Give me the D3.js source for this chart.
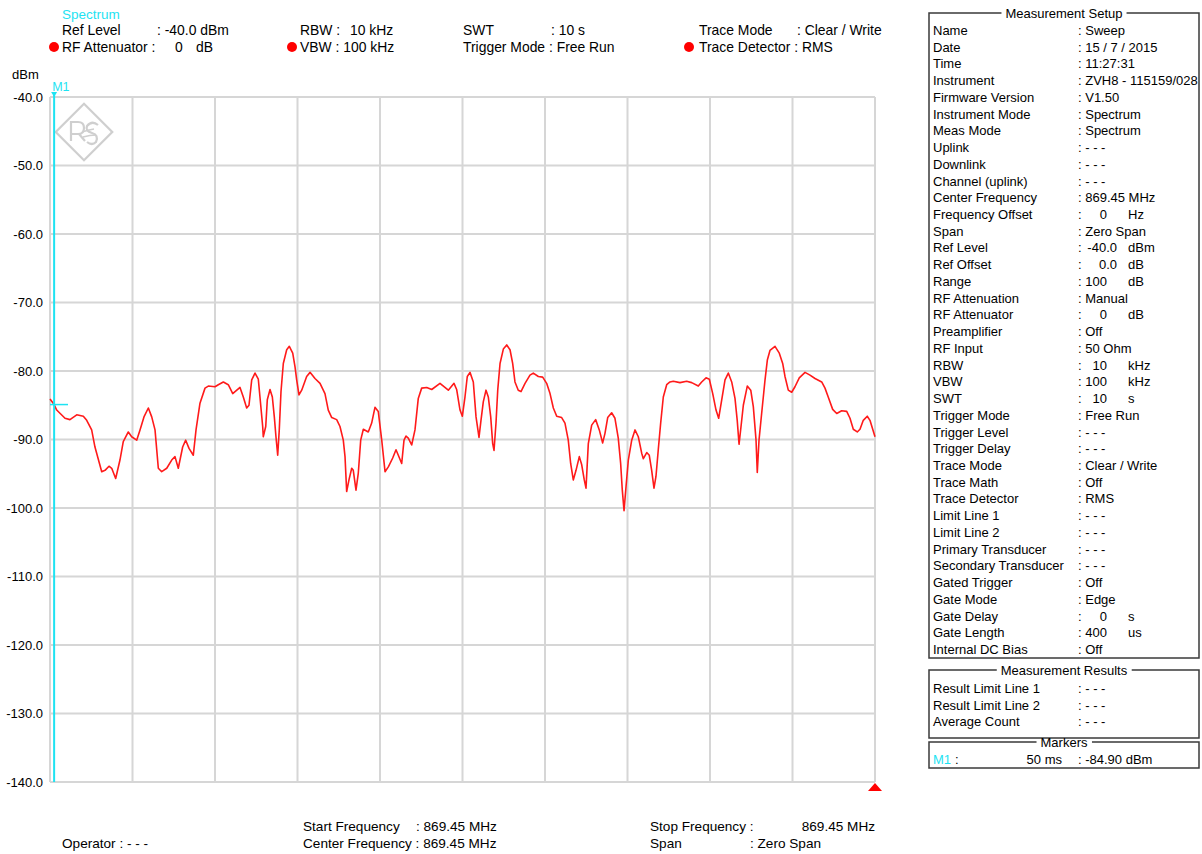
<!DOCTYPE html>
<html>
<head>
<meta charset="utf-8">
<script src="https://cdn.jsdelivr.net/npm/d3@7"></script>
<style>
  html, body { margin: 0; padding: 0; background: #fff; }
  svg { display: block; font-family: "Liberation Sans", Arial, sans-serif; font-size: 13px; }
</style>
</head>
<body>
<svg id="chart" width="1202" height="854"></svg>
<script>
// Zero-span sweep trace: time since sweep start (ms) and RMS level (dBm)
const timeMs = [0, 50, 81, 182, 242, 324, 404, 445, 505, 545, 627, 667, 715, 748, 796, 848, 888, 949, 990, 1051,
  1091, 1139, 1192, 1233, 1273, 1313, 1354, 1415, 1475, 1515, 1555, 1608, 1645, 1685, 1737, 1770, 1818, 1879, 1919, 2000,
  2040, 2101, 2161, 2215, 2303, 2343, 2384, 2412, 2445, 2485, 2525, 2545, 2578, 2585, 2615, 2634, 2667, 2695, 2719, 2739,
  2760, 2779, 2800, 2828, 2869, 2901, 2942, 2970, 2990, 3018, 3051, 3111, 3152, 3212, 3273, 3333, 3373, 3415, 3475, 3515,
  3555, 3576, 3596, 3624, 3657, 3676, 3709, 3737, 3766, 3798, 3858, 3899, 3939, 3979, 4021, 4061, 4101, 4154, 4194, 4222,
  4263, 4291, 4315, 4343, 4384, 4424, 4464, 4505, 4566, 4627, 4727, 4828, 4897, 4929, 4970, 4998, 5030, 5058, 5091, 5131,
  5164, 5200, 5224, 5252, 5285, 5313, 5342, 5366, 5382, 5406, 5427, 5455, 5495, 5536, 5576, 5608, 5636, 5676, 5709, 5758,
  5818, 5858, 5919, 5972, 6020, 6061, 6101, 6142, 6202, 6242, 6282, 6311, 6343, 6376, 6416, 6445, 6476, 6497, 6525, 6566,
  6614, 6658, 6699, 6727, 6760, 6808, 6848, 6888, 6917, 6937, 6958, 6982, 7010, 7051, 7091, 7131, 7172, 7192, 7233, 7264,
  7293, 7321, 7345, 7373, 7402, 7434, 7475, 7515, 7555, 7636, 7717, 7778, 7858, 7899, 7952, 7992, 8033, 8073, 8105, 8142,
  8182, 8222, 8263, 8303, 8330, 8352, 8376, 8404, 8452, 8494, 8525, 8558, 8573, 8594, 8626, 8667, 8695, 8727, 8788, 8840,
  8881, 8909, 8949, 8990, 9030, 9082, 9152, 9212, 9273, 9354, 9394, 9433, 9487, 9536, 9596, 9657, 9697, 9737, 9785, 9818,
  9858, 9906, 9939, 10000];
const levelDbm = [-84.1, -84.9, -85.7, -86.9, -87.1, -86.4, -86.6, -87.2, -88.6, -91.1, -94.7, -94.5, -93.9, -94.2, -95.7, -93.0, -90.3, -88.9, -89.6, -90.1,
  -88.6, -86.7, -85.4, -86.7, -88.6, -94.2, -94.7, -94.2, -93.0, -92.5, -94.2, -91.1, -90.1, -91.3, -92.3, -88.6, -84.7, -82.5, -82.2, -82.3,
  -82.0, -81.6, -82.0, -83.3, -82.4, -83.8, -85.4, -85.0, -81.3, -80.3, -81.2, -83.8, -88.1, -89.6, -88.1, -84.2, -82.7, -83.8, -86.7, -89.6,
  -92.3, -88.6, -83.0, -78.9, -76.9, -76.4, -77.4, -79.4, -81.3, -83.5, -82.8, -80.8, -80.2, -81.1, -81.8, -83.3, -85.7, -86.8, -87.1, -88.1,
  -90.1, -92.5, -97.6, -95.9, -94.2, -94.5, -97.4, -94.9, -90.1, -88.5, -88.9, -87.6, -85.3, -85.9, -90.1, -94.7, -94.0, -92.7, -91.5, -92.3,
  -93.5, -90.1, -89.5, -89.8, -90.8, -88.6, -84.0, -82.5, -82.4, -82.7, -81.8, -82.8, -81.8, -82.7, -85.7, -86.6, -83.8, -80.8, -80.2, -81.6,
  -86.7, -89.7, -87.2, -84.5, -82.8, -83.8, -86.7, -90.6, -91.6, -87.6, -82.8, -78.9, -76.8, -76.2, -76.9, -78.9, -81.6, -82.8, -83.0, -81.8,
  -80.6, -80.3, -80.8, -80.9, -81.8, -83.3, -85.4, -86.6, -86.8, -87.6, -90.1, -93.5, -95.9, -94.5, -92.5, -93.7, -95.9, -97.1, -90.6, -87.9,
  -87.1, -88.6, -90.5, -89.1, -86.8, -86.1, -86.9, -89.8, -93.5, -97.4, -100.4, -96.9, -93.0, -90.1, -88.6, -89.6, -92.0, -92.8, -91.9, -92.3,
  -94.5, -97.1, -95.4, -91.5, -87.6, -83.8, -82.0, -81.6, -81.5, -81.7, -81.5, -81.7, -82.2, -81.6, -81.0, -81.2, -83.3, -85.7, -86.9, -84.2,
  -81.3, -80.3, -81.6, -84.0, -87.2, -90.7, -88.1, -85.0, -82.2, -82.8, -85.2, -90.1, -94.8, -90.1, -86.2, -81.3, -78.4, -77.0, -76.4, -77.4,
  -78.9, -80.8, -82.8, -83.1, -82.3, -81.0, -80.2, -80.6, -81.1, -81.6, -82.5, -83.8, -85.6, -86.2, -85.8, -85.9, -86.9, -88.5, -88.9, -88.5,
  -87.2, -86.6, -87.2, -89.6];

// Axis ranges and ticks
const sweepMs = [0, 10000];
const levelRange = [-140, -40];
const levelTicks = [-40, -50, -60, -70, -80, -90, -100, -110, -120, -130, -140];
const timeTicks = [0, 1000, 2000, 3000, 4000, 5000, 6000, 7000, 8000, 9000, 10000];

// Marker M1
const markerName = "M1";
const markerTimeMs = 50;
const markerLevel = -84.90;

// Header parameter block
const headerTitle = "Spectrum";
const headerTexts = [
  ["Ref Level", 62, 0], [": -40.0 dBm", 157, 0],
  ["RF Attenuator :", 62, 1], ["0", 175, 1], ["dB", 196, 1],
  ["RBW :", 300, 0], ["10 kHz", 350, 0],
  ["VBW : 100 kHz", 300, 1],
  ["SWT", 463, 0], [": 10 s", 551, 0],
  ["Trigger Mode : Free Run", 463, 1],
  ["Trace Mode", 699, 0], [": Clear / Write", 797, 0],
  ["Trace Detector : RMS", 699, 1]
];
const headerDots = [54, 292, 689];

// Measurement setup table
const setupLabels = ["Name", "Date", "Time", "Instrument", "Firmware Version", "Instrument Mode", "Meas Mode",
  "Uplink", "Downlink", "Channel (uplink)", "Center Frequency", "Frequency Offset", "Span", "Ref Level",
  "Ref Offset", "Range", "RF Attenuation", "RF Attenuator", "Preamplifier", "RF Input", "RBW", "VBW", "SWT",
  "Trigger Mode", "Trigger Level", "Trigger Delay", "Trace Mode", "Trace Math", "Trace Detector",
  "Limit Line 1", "Limit Line 2", "Primary Transducer", "Secondary Transducer", "Gated Trigger", "Gate Mode",
  "Gate Delay", "Gate Length", "Internal DC Bias"];
const setupValues = ["Sweep", "15 / 7 / 2015", "11:27:31", "ZVH8 - 115159/028", "V1.50", "Spectrum", "Spectrum",
  "- - -", "- - -", "- - -", "869.45 MHz", "", "Zero Span", "",
  "", "", "Manual", "", "Off", "50 Ohm", "", "", "",
  "Free Run", "- - -", "- - -", "Clear / Write", "Off", "RMS",
  "- - -", "- - -", "- - -", "- - -", "Off", "Edge",
  "", "", "Off"];
const setupNumbers = ["", "", "", "", "", "", "", "", "", "", "", "0", "", "-40.0",
  "0.0", "100", "", "0", "", "", "10", "100", "10",
  "", "", "", "", "", "", "", "", "", "", "", "", "0", "400", ""];
const setupUnits = ["", "", "", "", "", "", "", "", "", "", "", "Hz", "", "dBm",
  "dB", "dB", "", "dB", "", "", "kHz", "kHz", "s",
  "", "", "", "", "", "", "", "", "", "", "", "", "s", "us", ""];

const resultLabels = ["Result Limit Line 1", "Result Limit Line 2", "Average Count"];
const resultValues = ["- - -", "- - -", "- - -"];

const footerTexts = [
  ["Operator : - - -", 62, 1],
  ["Start Frequency", 303, 0], [": 869.45 MHz", 416, 0],
  ["Center Frequency : 869.45 MHz", 303, 1],
  ["Stop Frequency :", 650, 0],
  ["Span", 650, 1], [": Zero Span", 750, 1]
];
const stopFreqText = "869.45 MHz";

// ---- drawing ----
const CYAN = "#1ee3f2";
const RED = "#ff1a1a";
const GRID = "#d6d6d6";
const svg = d3.select("#chart");

const plot = { left: 50, right: 875, top: 97, bottom: 782 };
const x = d3.scaleLinear().domain(sweepMs).range([plot.left, plot.right]);
const y = d3.scaleLinear().domain(levelRange).range([plot.bottom, plot.top]);

// grid
const grid = svg.append("g");
grid.selectAll("line.v").data(timeTicks).join("line")
  .attr("x1", d => x(d)).attr("x2", d => x(d))
  .attr("y1", plot.top).attr("y2", plot.bottom)
  .attr("stroke", GRID).attr("stroke-width", 2);
grid.selectAll("line.h").data(levelTicks).join("line")
  .attr("x1", plot.left).attr("x2", plot.right)
  .attr("y1", d => y(d)).attr("y2", d => y(d))
  .attr("stroke", GRID).attr("stroke-width", 2);

// R&S style diamond logo
const logo = svg.append("g").attr("transform", "translate(84,132)")
  .attr("fill", "none").attr("stroke", "#cfcfcf").attr("stroke-width", 2.2);
logo.append("rect").attr("x", -20).attr("y", -20).attr("width", 40).attr("height", 40)
  .attr("transform", "rotate(45)");
logo.append("path").attr("d", "M-13,9 V-10 H-6 Q0,-10 0,-4 Q0,2 -6,2 H-13 M-5,2 L1,9");
logo.append("path").attr("d", "M14,-7 Q8,-12 3,-6 Q1,-1 8,1 Q15,3 12,10 Q8,14 3,10");
logo.append("path").attr("d", "M-2,0 Q4,-2 10,-3 M-1,5 Q6,3 12,3").attr("stroke-width", 1.6);

// y axis labels
const yAxis = d3.axisLeft(y).tickValues(levelTicks).tickSize(0).tickPadding(7)
  .tickFormat(d => d.toFixed(1));
const yg = svg.append("g").attr("transform", `translate(${plot.left},0)`).call(yAxis);
yg.select(".domain").remove();
yg.selectAll("text").attr("font-family", "Liberation Sans, Arial, sans-serif")
  .attr("font-size", 13).attr("fill", "#000");
svg.append("text").attr("x", 12).attr("y", 79).text("dBm");

// trace
const trace = timeMs.map((t, i) => [t, levelDbm[i]]);
svg.append("path").datum(trace)
  .attr("fill", "none").attr("stroke", RED).attr("stroke-width", 1.6)
  .attr("stroke-linejoin", "round")
  .attr("d", d3.line().x(d => x(d[0])).y(d => y(d[1])));

// marker
const mx = x(markerTimeMs), my = y(markerLevel);
svg.append("line").attr("x1", mx).attr("x2", mx).attr("y1", plot.top - 2).attr("y2", plot.bottom)
  .attr("stroke", CYAN).attr("stroke-width", 2);
svg.append("line").attr("x1", plot.left).attr("x2", plot.left + 18).attr("y1", my).attr("y2", my)
  .attr("stroke", CYAN).attr("stroke-width", 1.5);
svg.append("path").attr("d", `M${mx - 3},${plot.top - 5} L${mx + 3},${plot.top - 5} L${mx},${plot.top} Z`)
  .attr("fill", CYAN);
svg.append("text").attr("x", mx - 2).attr("y", 91).attr("fill", CYAN).attr("font-size", 12.5).text(markerName);

// stop-edge triangle
svg.append("path").attr("d", `M${plot.right - 7},${plot.bottom + 9} L${plot.right + 7},${plot.bottom + 9} L${plot.right},${plot.bottom + 1} Z`)
  .attr("fill", "#ff0000");

// header block
const headerBase = [35, 52];
svg.append("text").attr("x", 62).attr("y", 19).attr("fill", CYAN).attr("font-size", 13.5).text(headerTitle);
svg.selectAll("text.hdr").data(headerTexts).join("text").attr("class", "hdr")
  .attr("font-size", 13.9)
  .attr("x", d => d[1]).attr("y", d => headerBase[d[2]]).text(d => d[0]);
svg.selectAll("circle.dot").data(headerDots).join("circle").attr("class", "dot")
  .attr("cx", d => d).attr("cy", 47).attr("r", 5).attr("fill", "#ff0000");

// footer block
const footerBase = [831, 848];
svg.selectAll("text.ftr").data(footerTexts).join("text").attr("class", "ftr")
  .attr("font-size", 13.6)
  .attr("x", d => d[1]).attr("y", d => footerBase[d[2]]).text(d => d[0]);
svg.append("text").attr("x", plot.right).attr("y", footerBase[0]).attr("font-size", 13.6)
  .attr("text-anchor", "end").text(stopFreqText);

// titled boxes on the right
function titledBox(x0, y0, x1, y1, title) {
  const g = svg.append("g");
  g.append("rect").attr("x", x0).attr("y", y0).attr("width", x1 - x0).attr("height", y1 - y0)
    .attr("fill", "none").attr("stroke", "#3a3a3a").attr("stroke-width", 1.5);
  const t = g.append("text").attr("x", (x0 + x1) / 2).attr("y", y0 + 5).attr("text-anchor", "middle").text(title);
  const bb = t.node().getBBox();
  g.insert("rect", "text").attr("x", bb.x - 4).attr("y", y0 - 2).attr("width", bb.width + 8).attr("height", 4).attr("fill", "#fff");
  return g;
}
const colLabel = 933, colColon = 1078;
const rowY = i => 35 + i * 16.73;

titledBox(929, 13, 1199, 658, "Measurement Setup");
const rows = svg.append("g");
setupLabels.forEach((lab, i) => {
  rows.append("text").attr("x", colLabel).attr("y", rowY(i)).text(lab);
  if (setupValues[i]) {
    rows.append("text").attr("x", colColon).attr("y", rowY(i)).text(": " + setupValues[i]);
  } else {
    rows.append("text").attr("x", colColon).attr("y", rowY(i)).text(":");
    const num = setupNumbers[i];
    rows.append("text").attr("x", num.includes(".") ? 1117 : 1107).attr("y", rowY(i))
      .attr("text-anchor", "end").text(num);
    rows.append("text").attr("x", 1128).attr("y", rowY(i)).text(setupUnits[i]);
  }
});

titledBox(929, 670, 1199, 738, "Measurement Results");
resultLabels.forEach((lab, i) => {
  const yy = 693 + i * 16.73;
  rows.append("text").attr("x", colLabel).attr("y", yy).text(lab);
  rows.append("text").attr("x", colColon).attr("y", yy).text(": " + resultValues[i]);
});

titledBox(929, 742, 1199, 768, "Markers");
rows.append("text").attr("x", colLabel).attr("y", 764).attr("fill", CYAN).text(markerName);
rows.append("text").attr("x", colLabel + 22).attr("y", 764).text(":");
rows.append("text").attr("x", 1062).attr("y", 764).attr("text-anchor", "end").text(`${markerTimeMs} ms`);
rows.append("text").attr("x", colColon).attr("y", 764).text(`: ${markerLevel.toFixed(2)} dBm`);
</script>
</body>
</html>
